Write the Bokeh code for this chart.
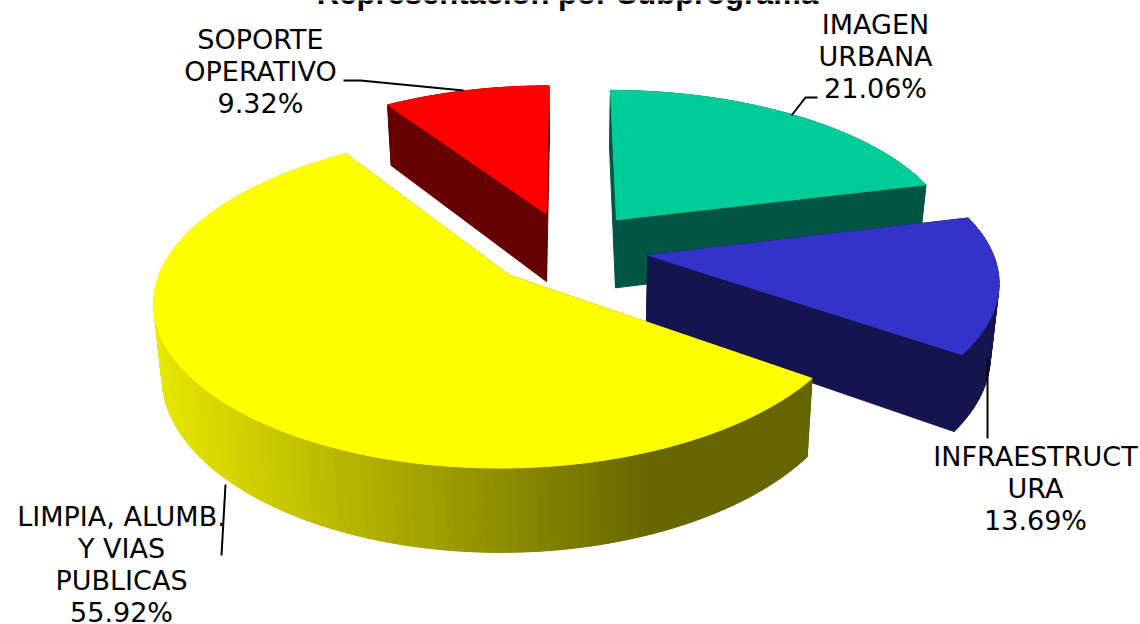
import math
from bokeh.plotting import figure
from bokeh.embed import file_html
from bokeh.resources import INLINE
from bokeh.core.properties import value

# ---- data ----
categories = ["IMAGEN URBANA", "INFRAESTRUCTURA", "LIMPIA, ALUMB. Y VIAS PUBLICAS", "SOPORTE OPERATIVO"]
percentages = [21.06, 13.69, 55.92, 9.32]
top_colors = ["#00CC99", "#3333CC", "#FFFF00", "#FF0000"]
side_colors = ["#005544", "#14144F", None, "#660000"]
draw_order = [0, 3, 1, 2]
title_text = "Representación por Subprograma"
label_lines = [
    ["IMAGEN", "URBANA", "21.06%"],
    ["INFRAESTRUCT", "URA", "13.69%"],
    ["LIMPIA, ALUMB.", "Y VIAS", "PUBLICAS", "55.92%"],
    ["SOPORTE", "OPERATIVO", "9.32%"],
]

# ---- layout ----
W, H = 1140, 624
CX, CY, RX, RY, K, C3 = 568.0, 248.0, 334.0, 156.0, 0.146, 0.015
EXPLODE, DEPTH, SHRINK = 0.24, 70.0, 0.98
FONT = "DejaVu Sans"
FS = 27
LINE_H = 32
label_pos = [(875, 24), (1035, 456), (121, 516), (260, 39)]
leaders = [
    ([817, 805, 791], [97, 97, 115]),
    ([987, 987], [358, 438]),
    ([225, 221], [484, 555]),
    ([343, 360, 463], [80, 80, 90]),
]


def proj(U, V, bottom=False):
    s = 1.0 / (1.0 - K * V)
    x = RX * U * s * (1 + C3 * U * U)
    y = CY + RY * V * s
    if bottom:
        x *= SHRINK
        y += DEPTH * s
    return CX + x, y


def yellow_side(x):
    t = min(max((x - 155.0) / (650.0 - 155.0), 0.0), 1.0)
    a = round(0xE8 + (0x66 - 0xE8) * t)
    return "#%02X%02X00" % (a, a)


p = figure(width=W, height=H, x_range=(0, W), y_range=(H, 0), toolbar_location=None,
           output_backend="svg", min_border=0, outline_line_color=None,
           margin=(0, 0, 0, 0))
p.axis.visible = False
p.grid.visible = False
p.background_fill_color = "#FFFFFF"

starts = []
acc = 0.0
total = sum(percentages)
for v in percentages:
    starts.append(acc)
    acc += v / total * 2 * math.pi

for i in draw_order:
    a0 = starts[i]
    a1 = a0 + percentages[i] / total * 2 * math.pi
    mid = (a0 + a1) / 2
    ou, ov = EXPLODE * math.sin(mid), -EXPLODE * math.cos(mid)
    n = max(8, int((a1 - a0) / math.radians(1.5)))
    arc = [(ou + math.sin(a0 + (a1 - a0) * j / n), ov - math.cos(a0 + (a1 - a0) * j / n)) for j in range(n + 1)]

    xs, ys, cs = [], [], []
    apex = (ou, ov)
    # radial faces
    for e in (arc[0], arc[-1]):
        quad = [proj(*apex), proj(*e), proj(*e, True), proj(*apex, True)]
        xs.append([q[0] for q in quad]); ys.append([q[1] for q in quad])
        cs.append(side_colors[i] or "#666600")
    # rim
    for j in range(n):
        quad = [proj(*arc[j]), proj(*arc[j + 1]), proj(*arc[j + 1], True), proj(*arc[j], True)]
        xs.append([q[0] for q in quad]); ys.append([q[1] for q in quad])
        xm = sum(q[0] for q in quad) / 4
        cs.append(side_colors[i] or yellow_side(xm))
    p.patches(xs, ys, fill_color=cs, line_color=cs, line_width=1)

    top = [proj(*apex)] + [proj(*a) for a in arc]
    p.patch([q[0] for q in top], [q[1] for q in top], fill_color=top_colors[i],
            line_color=top_colors[i], line_width=1)

for lx, ly in leaders:
    p.line(lx, ly, line_color="#000000", line_width=2)

tx, ty, tt = [], [], []
for (x, y), lines in zip(label_pos, label_lines):
    for j, t in enumerate(lines):
        tx.append(x); ty.append(y + j * LINE_H); tt.append(t)
p.text(tx, ty, text=tt, text_font=value(FONT), text_font_size=f"{FS}px", text_color="#000000",
       text_align="center", text_baseline="middle")
p.text([567], [-7], text=[title_text], text_font=value("Liberation Sans"), text_font_size="31px",
       text_font_style="bold", text_color="#000000", text_align="center", text_baseline="alphabetic")

open("out.html", "w").write(file_html(p, INLINE))
